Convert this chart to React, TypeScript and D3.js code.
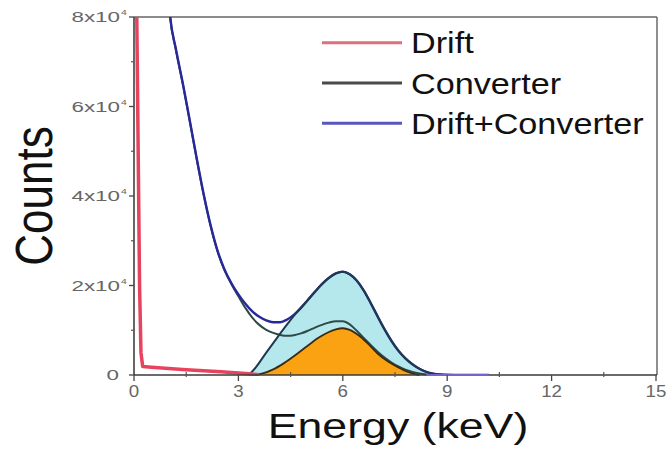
import React from "react";
import * as d3 from "d3";

// ---- data ----
const driftEnergy = [0.04, 0.08, 0.12, 0.16, 0.2, 0.25, 0.5, 1.0, 1.5, 2.0, 2.5, 3.0, 3.3, 3.6];
const driftCounts = [90000, 80000, 50000, 20000, 5000, 1900, 1750, 1450, 1200, 950, 700, 450, 260, 80];

const totalEnergy = [0.9, 1.04, 1.2, 1.42, 1.6, 1.8, 2.0, 2.2, 2.4, 2.6, 2.8, 3.0, 3.2, 3.4, 3.6, 3.8, 4.0, 4.2, 4.4, 4.6, 4.8, 5.0, 5.2, 5.4, 5.6, 5.8, 6.0, 6.2, 6.4, 6.6, 6.8, 7.0, 7.2, 7.4, 7.6, 7.8, 8.0, 8.2, 8.4, 8.6, 8.8, 9.0, 9.4, 10.2];
const totalCounts = [95000, 80000, 73000, 64500, 57000, 48500, 40500, 33500, 27800, 23600, 20500, 18000, 15900, 14200, 13000, 12200, 11800, 11800, 12400, 13500, 15000, 16800, 18600, 20300, 21700, 22700, 23100, 22500, 21100, 18900, 16100, 13100, 10200, 7600, 5400, 3700, 2400, 1400, 700, 300, 120, 40, 0, 0];

const converterEnergy = [0.9, 1.04, 1.2, 1.42, 1.6, 1.8, 2.0, 2.2, 2.4, 2.6, 2.8, 3.0, 3.2, 3.4, 3.6, 3.8, 4.0, 4.2, 4.4, 4.6, 4.8, 5.0, 5.2, 5.4, 5.6, 5.8, 6.0, 6.2, 6.4, 6.6, 6.8, 7.0, 7.2, 7.4, 7.6, 7.8, 8.0, 8.2, 8.4, 8.6];
const converterCounts = [95000, 79800, 72800, 64300, 56800, 48300, 40300, 33300, 27600, 23400, 20300, 17600, 15000, 12800, 11200, 10100, 9400, 8950, 8750, 8900, 9300, 9900, 10600, 11200, 11700, 12000, 12000, 11300, 9900, 8300, 6700, 5200, 3900, 2800, 1900, 1200, 700, 350, 120, 0];

const peakEnergy = [3.3, 3.5, 3.8, 4.1, 4.4, 4.7, 5.0, 5.2, 5.4, 5.6, 5.8, 6.0, 6.2, 6.4, 6.6, 6.8, 7.0, 7.2, 7.4, 7.6, 7.8, 8.0, 8.2, 8.4, 8.6, 8.8, 9.0];
const peakCounts = [0, 1700, 5000, 8200, 11300, 14200, 16800, 18600, 20300, 21700, 22700, 23100, 22500, 21100, 18900, 16100, 13100, 10200, 7600, 5400, 3700, 2400, 1400, 700, 300, 100, 0];

const convPeakEnergy = [3.45, 3.7, 4.0, 4.3, 4.7, 5.0, 5.3, 5.6, 5.8, 6.0, 6.2, 6.5, 6.8, 7.0, 7.3, 7.6, 7.8, 8.0, 8.2];
const convPeakCounts = [0, 350, 1250, 2600, 4800, 6600, 8300, 9600, 10200, 10450, 10100, 8600, 6400, 4800, 3000, 1700, 900, 350, 0];

const xMajorTicks = [0, 3, 6, 9, 12, 15];
const xMinorTicks = [1.5, 4.5, 7.5, 10.5, 13.5];
const yMajorTicks = [0, 20000, 40000, 60000, 80000];
const yMinorTicks = [10000, 30000, 50000, 70000];
const yTickMantissa = ["0", "2x10", "4x10", "6x10", "8x10"];

const legendLabels = ["Drift", "Converter", "Drift+Converter"];
const legendColors = ["#df6f7c", "#4a4a4a", "#5757bd"];

const zip = (xs: number[], ys: number[]) => xs.map((x, i) => [x, ys[i]] as [number, number]);

export default function App() {
  const W = 669, H = 450;
  const left = 134, right = 656, top = 17, bottom = 375;
  const x = d3.scaleLinear().domain([0, 15]).range([left, right]);
  const y = d3.scaleLinear().domain([0, 80000]).range([bottom, top]);

  const line = d3.line<[number, number]>().x(d => x(d[0])).y(d => y(d[1])).curve(d3.curveMonotoneX);
  const lineLin = d3.line<[number, number]>().x(d => x(d[0])).y(d => y(d[1]));
  const area = d3.area<[number, number]>().x(d => x(d[0])).y0(y(0)).y1(d => y(d[1])).curve(d3.curveMonotoneX);

  const drift = zip(driftEnergy, driftCounts);
  const total = zip(totalEnergy, totalCounts);
  const conv = zip(converterEnergy, converterCounts);
  const peak = zip(peakEnergy, peakCounts);
  const convPeak = zip(convPeakEnergy, convPeakCounts);

  const font = "'Liberation Sans', Arial, Helvetica, sans-serif";

  return (
    <svg width={W} height={H} style={{ position: "absolute", left: 0, top: 0, background: "#fff" }} fontFamily={font}>
      <defs>
        <clipPath id="plot">
          <rect x={left} y={top} width={657 - left} height={bottom - top + 1} />
        </clipPath>
      </defs>

      {/* frame */}
      <line x1={left} x2={657} y1={top} y2={top} stroke="#8c8c8c" strokeWidth={2} />
      <line x1={657} x2={657} y1={top} y2={bottom} stroke="#6a6a6a" strokeWidth={1.5} />

      <g clipPath="url(#plot)">
        <path d={area(peak) || ""} fill="#b4e8ec" />
        <path d={area(convPeak) || ""} fill="#fba212" />
        <path d={line(conv) || ""} fill="none" stroke="#2f4848" strokeWidth={2} />
        <path d={line(total) || ""} fill="none" stroke="#28289a" strokeWidth={2.4} />
        <path d={line(peak) || ""} fill="none" stroke="#1f3a4e" strokeWidth={2} />
        <path d={line(convPeak) || ""} fill="none" stroke="#3a2a18" strokeWidth={1.8} />
        <path d={lineLin(drift) || ""} fill="none" stroke="#e8435e" strokeWidth={3.5} strokeLinejoin="round" />
      </g>

      {/* axes */}
      <line x1={left} x2={657} y1={bottom} y2={bottom} stroke="#3a3a3a" strokeWidth={1.5} />
      <line x1={left} x2={left} y1={top} y2={bottom} stroke="#333" strokeWidth={1.5} />
      <line x1={x(8.4)} x2={x(10.2)} y1={bottom} y2={bottom} stroke="#7464c8" strokeWidth={1.8} />

      {xMajorTicks.map(t => (
        <g key={"xt" + t}>
          <line x1={x(t)} x2={x(t)} y1={bottom} y2={bottom + 6} stroke="#444" strokeWidth={1.3} />
          <text transform={`translate(${x(t)},${bottom + 22}) scale(1.1,1)`} textAnchor="middle" fontSize={17} fill="#666">{t}</text>
        </g>
      ))}
      {xMinorTicks.map(t => (
        <line key={"xm" + t} x1={x(t)} x2={x(t)} y1={bottom - 3} y2={bottom + 2} stroke="#555" strokeWidth={1.2} />
      ))}
      {yMajorTicks.map((t, i) => (
        <g key={"yt" + t}>
          <line x1={left - 5} x2={left} y1={y(t)} y2={y(t)} stroke="#444" strokeWidth={1.3} />
          <text transform={`translate(${t === 0 ? 119 : 120},${y(t) + 5}) scale(1.6,1)`} textAnchor="end" fontSize={14} fill="#666">{yTickMantissa[i]}</text>
          {t !== 0 && (
            <text transform={`translate(121,${y(t) - 2}) scale(1.3,1)`} fontSize={8} fill="#666">4</text>
          )}
        </g>
      ))}
      {yMinorTicks.map(t => (
        <line key={"ym" + t} x1={left - 3} x2={left} y1={y(t)} y2={y(t)} stroke="#555" strokeWidth={1.2} />
      ))}

      {/* axis titles */}
      <text transform={`translate(52,196) scale(1.18,1) rotate(-90)`} textAnchor="middle" fontSize={44} fill="#111">Counts</text>
      <text transform={`translate(398,438) scale(1.24,1)`} textAnchor="middle" fontSize={36} fill="#111">Energy (keV)</text>

      {/* legend */}
      {legendLabels.map((lab, i) => {
        const ly = 42.7 + i * 40.3;
        return (
          <g key={lab}>
            <line x1={322} x2={402} y1={ly} y2={ly} stroke={legendColors[i]} strokeWidth={3} />
            <text transform={`translate(411,${ly + 10.5}) scale(1.14,1)`} fontSize={30} fill="#111">{lab}</text>
          </g>
        );
      })}
    </svg>
  );
}
